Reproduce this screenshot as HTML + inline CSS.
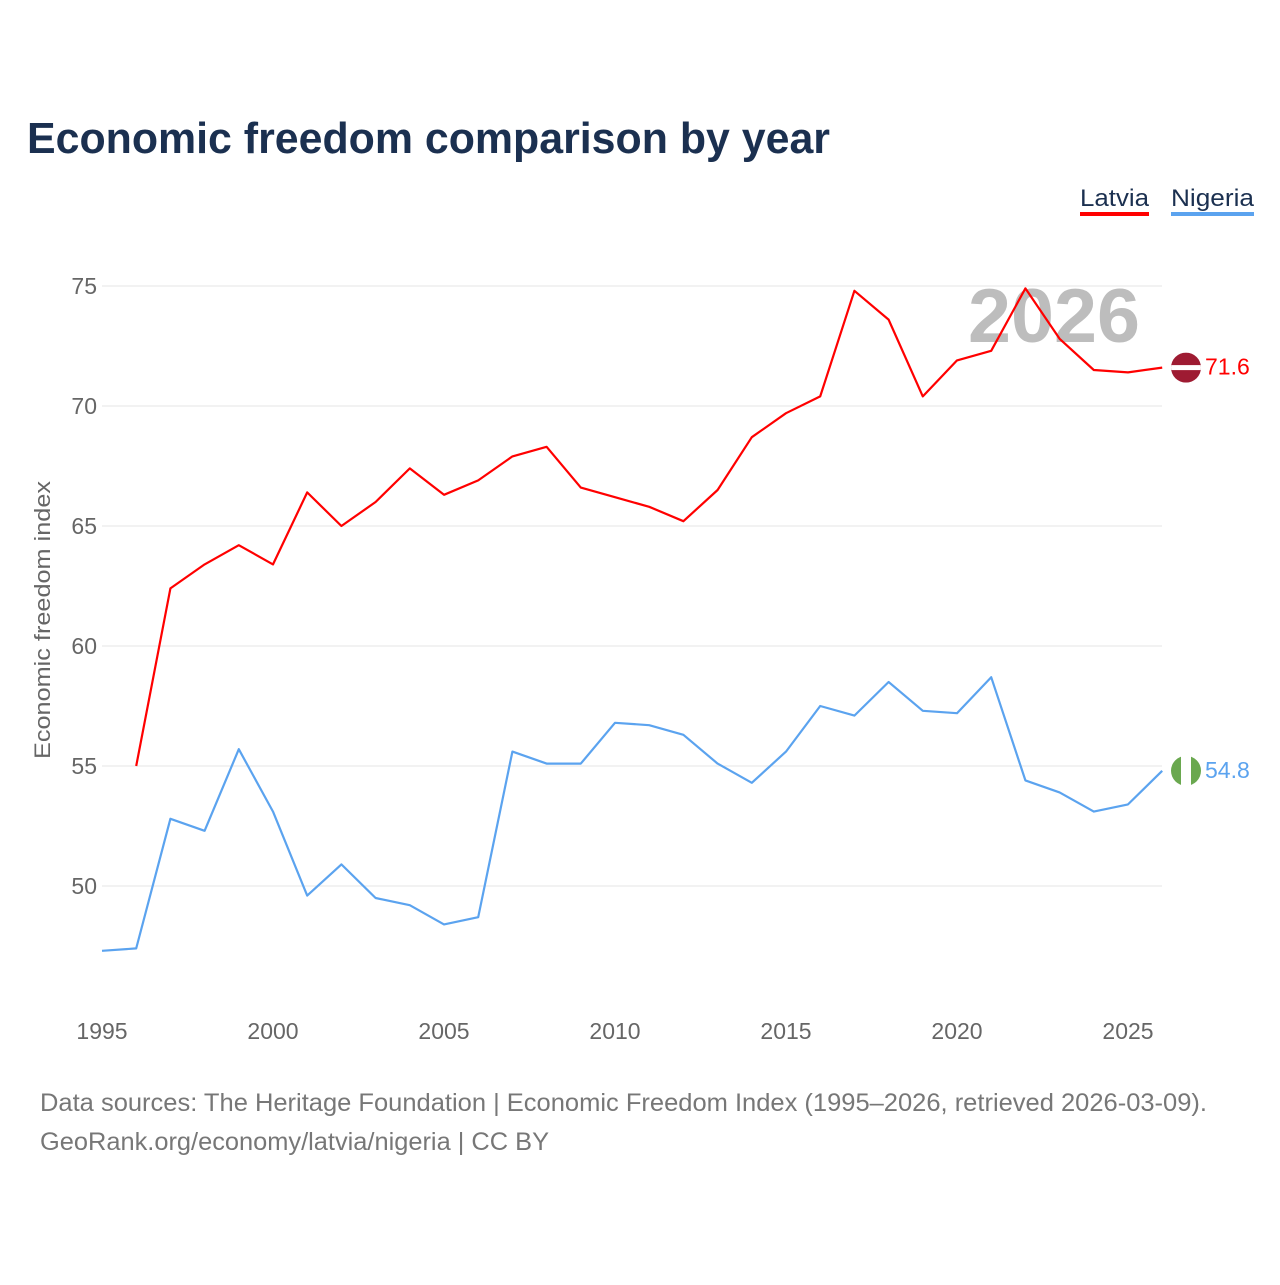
<!DOCTYPE html>
<html><head><meta charset="utf-8"><style>
body{margin:0;background:#fff;font-family:"Liberation Sans",sans-serif}
</style></head><body>
<svg width="1280" height="1280" xmlns="http://www.w3.org/2000/svg">
<rect width="1280" height="1280" fill="#fff"/>
<text x="27" y="153" font-size="44" font-weight="bold" fill="#1b3050" textLength="803" lengthAdjust="spacingAndGlyphs">Economic freedom comparison by year</text>
<g>
<text x="1080" y="206" font-size="24" fill="#1b3050" textLength="69" lengthAdjust="spacingAndGlyphs">Latvia</text>
<rect x="1080" y="212" width="69" height="4" fill="#ff0000"/>
<text x="1171" y="206" font-size="24" fill="#1b3050" textLength="83" lengthAdjust="spacingAndGlyphs">Nigeria</text>
<rect x="1171" y="212" width="83" height="4" fill="#5ba3ef"/>
</g>
<text x="968" y="342" font-size="76" font-weight="bold" fill="#bdbdbd" textLength="172" lengthAdjust="spacingAndGlyphs">2026</text>
<g id="grid"></g><g id="xt"></g><g id="lines"></g>
<text transform="translate(50,620) rotate(-90)" font-size="22" fill="#666" text-anchor="middle" textLength="278" lengthAdjust="spacingAndGlyphs">Economic freedom index</text>
<text x="40" y="1111" font-size="25" fill="#777" textLength="1167" lengthAdjust="spacingAndGlyphs">Data sources: The Heritage Foundation | Economic Freedom Index (1995–2026, retrieved 2026-03-09).</text>
<text x="40" y="1150" font-size="25" fill="#777" textLength="509" lengthAdjust="spacingAndGlyphs">GeoRank.org/economy/latvia/nigeria | CC BY</text>
</svg>
<script>
const years=[];for(let y=1995;y<=2026;y++)years.push(y);
const latvia=[null,55.0,62.4,63.4,64.2,63.4,66.4,65.0,66.0,67.4,66.3,66.9,67.9,68.3,66.6,66.2,65.8,65.2,66.5,68.7,69.7,70.4,74.8,73.6,70.4,71.9,72.3,74.9,72.8,71.5,71.4,71.6];
const nigeria=[47.3,47.4,52.8,52.3,55.7,53.1,49.6,50.9,49.5,49.2,48.4,48.7,55.6,55.1,55.1,56.8,56.7,56.3,55.1,54.3,55.6,57.5,57.1,58.5,57.3,57.2,58.7,54.4,53.9,53.1,53.4,54.8];
const yTicks=[50,55,60,65,70,75];
const xTicks=[1995,2000,2005,2010,2015,2020,2025];
const NS="http://www.w3.org/2000/svg";
const X=y=>102+(y-1995)*34.2;
const Y=v=>286+(75-v)*24;
function mk(t,a,p){const e=document.createElementNS(NS,t);for(const k in a)e.setAttribute(k,a[k]);p.appendChild(e);return e;}
const grid=document.getElementById('grid');
yTicks.forEach(v=>{
 const l=mk('line',{x1:102,x2:1162,y1:Y(v),y2:Y(v),stroke:'#e6e6e6','stroke-width':1},grid);
 
 
 const t=mk('text',{x:97,y:Y(v)+8,'font-size':23,fill:'#666','text-anchor':'end'},grid);t.textContent=v;
 
 
});
const xt=document.getElementById('xt');
xTicks.forEach(v=>{
 const t=mk('text',{x:X(v),y:1039,'font-size':23,fill:'#666','text-anchor':'middle'},xt);t.textContent=v;
 
 
});
const lines=document.getElementById('lines');
function series(data,color,name,flag){
 let d='';data.forEach((v,i)=>{if(v==null)return;d+=(d?'L':'M')+X(years[i])+','+Y(v);});
 const p=mk('path',{d:d,fill:'none',stroke:color,'stroke-width':2.2,'stroke-linejoin':'round'},lines);
 
 
 const last=data[data.length-1];const cy=Y(last);
 const g=mk('g',{},lines);
 
 
 const cp=mk('clipPath',{id:'c'+name},g);mk('circle',{cx:1186,cy:cy,r:15},cp);
 const gg=mk('g',{'clip-path':'url(#c'+name+')'},g);
 if(flag==='lv'){mk('rect',{x:1171,y:cy-15,width:30,height:30,fill:'#9e1b32'},gg);mk('rect',{x:1171,y:cy-2.5,width:30,height:5,fill:'#fff'},gg);}
 else{mk('rect',{x:1171,y:cy-15,width:30,height:30,fill:'#fff'},gg);mk('rect',{x:1171,y:cy-15,width:10,height:30,fill:'#6aa84f'},gg);mk('rect',{x:1191,y:cy-15,width:10,height:30,fill:'#6aa84f'},gg);}
 const t=mk('text',{x:1205,y:cy+7,'font-size':23,fill:color},lines);t.textContent=last.toFixed(1);
 
 
}
series(latvia,'#ff0000','latvia','lv');
series(nigeria,'#5ba3ef','nigeria','ng');
</script>
</body></html>
